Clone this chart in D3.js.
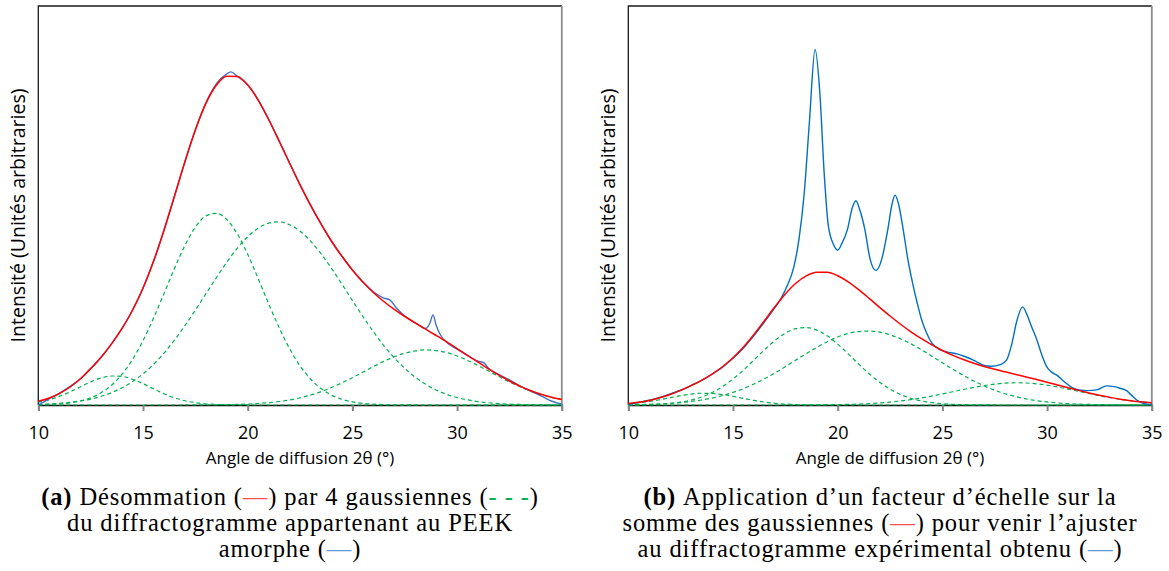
<!DOCTYPE html>
<html>
<head>
<meta charset="utf-8">
<script src="https://cdn.jsdelivr.net/npm/d3@7"></script>
<style>
  body { margin: 0; background: #fff; }
  svg { display: block; }
</style>
</head>
<body>
<svg id="chart" width="1169" height="571"></svg>
<script>
// angle de diffusion 2θ (°), grille commune aux gaussiennes
const angles = [10,10.5,11,11.5,12,12.5,13,13.5,14,14.5,15,15.5,16,16.5,17,17.5,18,18.5,19,19.5,20,20.5,21,21.5,22,22.5,23,23.5,24,24.5,25,25.5,26,26.5,27,27.5,28,28.5,29,29.5,30,30.5,31,31.5,32,32.5,33,33.5,34,34.5,35];
const xTicks = [10, 15, 20, 25, 30, 35];

// (a) PEEK amorphe
const gaussA1 = [0.72,1.30,2.15,3.26,4.53,5.78,6.77,7.27,7.16,6.46,5.35,4.06,2.83,1.81,1.06,0.57,0.28,0.13,0.05,0.02,0.01,0,0,0,0,0,0,0,0,0,0,0,0,0,0,0,0,0,0,0,0,0,0,0,0,0,0,0,0,0,0];
const gaussA2 = [0.06,0.13,0.27,0.53,1.00,1.79,3.05,4.97,7.72,11.42,16.13,21.72,27.91,34.20,39.97,44.55,47.38,48.05,46.49,42.90,37.76,31.70,25.39,19.40,14.13,9.82,6.51,4.12,2.48,1.43,0.78,0.41,0.20,0.10,0.04,0.02,0.01,0,0,0,0,0,0,0,0,0,0,0,0,0,0];
const gaussA3 = [0.17,0.27,0.43,0.66,1.00,1.49,2.17,3.09,4.30,5.86,7.80,10.18,13.00,16.25,19.87,23.78,27.84,31.90,35.78,39.27,42.17,44.32,45.58,45.89,45.19,43.56,41.09,37.93,34.26,30.29,26.20,22.18,18.38,14.90,11.82,9.18,6.98,5.19,3.77,2.69,1.87,1.28,0.85,0.56,0.36,0.22,0.14,0.08,0.05,0.03,0.02];
const gaussA4 = [0,0,0,0,0,0,0,0,0,0,0,0,0,0,0.01,0.02,0.03,0.05,0.09,0.15,0.24,0.38,0.58,0.87,1.27,1.81,2.49,3.35,4.37,5.55,6.85,8.23,9.62,10.93,12.08,12.98,13.57,13.80,13.65,13.13,12.28,11.17,9.89,8.51,7.12,5.80,4.59,3.54,2.65,1.93,1.37];
const sommeA = [0.95,1.70,2.85,4.45,6.53,9.06,11.99,15.33,19.18,23.74,29.28,35.96,43.74,52.26,60.91,68.92,75.53,80.13,82.41,82.34,80.18,76.40,71.55,66.16,60.59,55.19,50.09,45.40,41.11,37.27,33.83,30.82,28.20,25.93,23.94,22.18,20.56,18.99,17.42,15.82,14.15,12.45,10.74,9.07,7.48,6.02,4.73,3.62,2.70,1.96,1.39];
const mesureAngA = [10,10.5,11,11.5,12,12.5,13,13.5,14,14.5,15,15.5,16,16.5,17,17.5,18,18.5,19,19.2,19.5,20,20.5,21,21.5,22,22.5,23,23.5,24,24.5,25,25.5,26,26.5,26.8,27.1,27.5,28,28.5,28.7,28.85,29,29.2,29.5,30,30.5,31,31.3,31.5,32,32.5,33,33.5,34,34.5,35];
const mesureA = [0.0,1.5,2.9,4.6,6.5,9.2,12.0,15.4,19.2,23.8,29.3,36.0,43.8,52.4,61.0,69.0,75.7,80.5,83.0,83.5,82.4,80.3,76.5,71.6,66.2,60.7,55.2,50.1,45.4,41.0,37.3,33.8,30.8,28.4,26.8,26.3,24.3,22.3,20.6,19.2,20.5,22.6,20.0,17.6,15.7,14.0,12.4,11.0,10.5,9.2,7.6,6.3,4.8,3.5,2.3,1.0,0.2];

// (b) gaussiennes après facteur d'échelle + diffractogramme expérimental
const gaussB1 = [0.29,0.53,0.87,1.32,1.83,2.34,2.74,2.94,2.89,2.61,2.16,1.64,1.14,0.73,0.43,0.23,0.11,0.05,0.02,0.01,0,0,0,0,0,0,0,0,0,0,0,0,0,0,0,0,0,0,0,0,0,0,0,0,0,0,0,0,0,0,0];
const gaussB2 = [0.02,0.05,0.11,0.21,0.40,0.72,1.23,2.01,3.12,4.61,6.52,8.77,11.28,13.82,16.15,18.00,19.14,19.41,18.78,17.33,15.26,12.81,10.26,7.84,5.71,3.97,2.63,1.66,1.00,0.58,0.32,0.17,0.08,0.04,0.02,0.01,0,0,0,0,0,0,0,0,0,0,0,0,0,0,0];
const gaussB3 = [0.07,0.11,0.17,0.27,0.40,0.60,0.88,1.25,1.74,2.37,3.15,4.11,5.25,6.57,8.03,9.61,11.25,12.89,14.46,15.87,17.04,17.91,18.41,18.54,18.26,17.60,16.60,15.32,13.84,12.24,10.58,8.96,7.43,6.02,4.78,3.71,2.82,2.10,1.52,1.09,0.76,0.52,0.34,0.23,0.15,0.09,0.06,0.03,0.02,0.01,0.01];
const gaussB4 = [0,0,0,0,0,0,0,0,0,0,0,0,0,0,0,0.01,0.01,0.02,0.04,0.06,0.10,0.15,0.23,0.35,0.51,0.73,1.01,1.35,1.77,2.24,2.77,3.32,3.89,4.42,4.88,5.24,5.48,5.58,5.51,5.30,4.96,4.51,4.00,3.44,2.88,2.34,1.85,1.43,1.07,0.78,0.55];
const sommeB = [0.38,0.69,1.15,1.80,2.64,3.66,4.84,6.19,7.75,9.59,11.83,14.53,17.67,21.11,24.61,27.84,30.51,32.37,33.29,33.27,32.39,30.87,28.91,26.73,24.48,22.30,20.24,18.34,16.61,15.06,13.67,12.45,11.39,10.48,9.67,8.96,8.31,7.67,7.04,6.39,5.72,5.03,4.34,3.66,3.02,2.43,1.91,1.46,1.09,0.79,0.56];
const mesureAngB = [10,10.5,11,11.5,12,12.5,13,13.5,14,14.5,15,15.5,16,16.5,17,17.3,17.6,17.9,18.15,18.4,18.65,18.92,19.15,19.35,19.55,19.8,20.0,20.2,20.46,20.7,20.87,21.05,21.3,21.55,21.83,22.1,22.39,22.6,22.74,22.9,23.13,23.35,23.6,23.8,24.0,24.25,24.5,24.9,25.3,25.7,26.1,26.5,26.95,27.3,27.8,28.07,28.3,28.55,28.83,29.05,29.26,29.5,29.75,29.98,30.2,30.46,30.85,31.25,31.6,31.9,32.37,32.85,33.2,33.48,33.8,34.0,34.28,34.6,35];
const mesureB = [0.2,0.7,1.2,1.9,2.8,3.7,4.9,6.2,7.7,9.5,11.7,14.3,17.4,20.8,24.4,26.8,30.0,34.5,41.5,53.0,71.0,89.1,78.0,58.5,45.0,40.2,38.8,40.5,43.9,49.5,51.2,49,43.9,36.5,33.7,36.5,43.9,50.5,52.6,50.5,43.9,36.5,30,25.5,21.5,18.0,15.5,13.8,13.2,12.8,12.1,11.2,10.0,9.7,10.2,11.3,15,21,24.6,22.5,19.6,16.5,12.5,9.6,8.3,7.5,5.7,4.2,3.7,3.6,3.8,4.8,4.6,4.2,3.6,2.6,1.25,0.4,0.1];

const colors = { gauss: '#00b050', somme: '#ff0000', mesureA: '#4472c4', mesureB: '#0070c0' };
const sansFont = "'Open Sans', 'Noto Sans', sans-serif";
const serifFont = "'Liberation Serif', 'DejaVu Serif', serif";

const svg = d3.select('#chart');
const plotTop = 6, plotBottom = 405;
const y = d3.scaleLinear().domain([0, 100]).range([plotBottom, plotTop]);

function drawPanel(x0, x1, gauss, somme, mAng, mVal, blue) {
    const x = d3.scaleLinear().domain([10, 35]).range([x0, x1]);
    const g = svg.append('g');
    const line = d3.line().curve(d3.curveMonotoneX);

    // cadre
    g.append('path').attr('d', `M${x0},${plotBottom}V${plotTop}H${x1}`)
        .attr('fill', 'none').attr('stroke', '#1a1a1a').attr('stroke-width', 1.3);
    g.append('line').attr('x1', x1).attr('x2', x1).attr('y1', plotTop).attr('y2', plotBottom)
        .attr('stroke', '#8c8c8c').attr('stroke-width', 1.8);

    // axe des abscisses
    const ax = g.append('g').attr('transform', `translate(0,${plotBottom})`)
        .call(d3.axisBottom(x).tickValues(xTicks).tickSize(6).tickPadding(15).tickFormat(d3.format('d')));
    ax.select('.domain').attr('stroke', '#000').attr('stroke-width', 1.3);
    ax.selectAll('.tick line').attr('stroke', '#868686').attr('stroke-width', 2);
    ax.selectAll('.tick text').attr('font-family', sansFont).attr('font-size', 18).attr('fill', '#000');

    g.append('text').attr('x', (x0 + x1) / 2).attr('y', 464).attr('text-anchor', 'middle')
        .attr('font-family', sansFont).attr('font-size', 17).text('Angle de diffusion 2θ (°)');
    g.append('text').attr('transform', `translate(${x0 - 13},${(plotTop + plotBottom) / 2 + 10}) rotate(-90)`)
        .attr('text-anchor', 'middle').attr('font-family', sansFont).attr('font-size', 19.5)
        .text('Intensité (Unités arbitraries)');

    gauss.forEach(s => {
        g.append('path').attr('d', line(angles.map((a, i) => [x(a), y(s[i])])))
            .attr('fill', 'none').attr('stroke', colors.gauss).attr('stroke-width', 1.2)
            .attr('stroke-dasharray', '4,3');
    });
    g.append('path').attr('d', line(mAng.map((a, i) => [x(a), y(mVal[i])])))
        .attr('fill', 'none').attr('stroke', blue).attr('stroke-width', 1.4);
    g.append('path').attr('d', line(angles.map((a, i) => [x(a), y(somme[i])])))
        .attr('fill', 'none').attr('stroke', colors.somme).attr('stroke-width', 1.5);
}

drawPanel(38.3, 561.8, [gaussA1, gaussA2, gaussA3, gaussA4], sommeA, mesureAngA, mesureA, colors.mesureA);
drawPanel(628.3, 1151.8, [gaussB1, gaussB2, gaussB3, gaussB4], sommeB, mesureAngB, mesureB, colors.mesureB);

// légendes (sous-figures)
const captions = [
    { cx: 290, lines: [
        [['(a) ', '#000', true], ['Désommation (', '#000'], ['—', '#ff5050'], [') par 4 gaussiennes (', '#000'], ['- - -', '#00b050'], [')', '#000']],
        [['du diffractogramme appartenant au PEEK', '#000']],
        [['amorphe (', '#000'], ['—', '#5b9bd5'], [')', '#000']]
    ]},
    { cx: 880, lines: [
        [['(b) ', '#000', true], ['Application d’un facteur d’échelle sur la', '#000']],
        [['somme des gaussiennes (', '#000'], ['—', '#ff5050'], [') pour venir l’ajuster', '#000']],
        [['au diffractogramme expérimental obtenu (', '#000'], ['—', '#5b9bd5'], [')', '#000']]
    ]}
];
captions.forEach(c => {
    c.lines.forEach((parts, li) => {
        const t = svg.append('text').attr('x', c.cx).attr('y', 505 + li * 26)
            .attr('text-anchor', 'middle').attr('font-family', serifFont).attr('font-size', 24.5)
            .attr('letter-spacing', 0.9);
        parts.forEach(p => {
            t.append('tspan').attr('fill', p[1]).attr('font-weight', p[2] ? 'bold' : null).text(p[0]);
        });
    });
});
</script>
</body>
</html>
